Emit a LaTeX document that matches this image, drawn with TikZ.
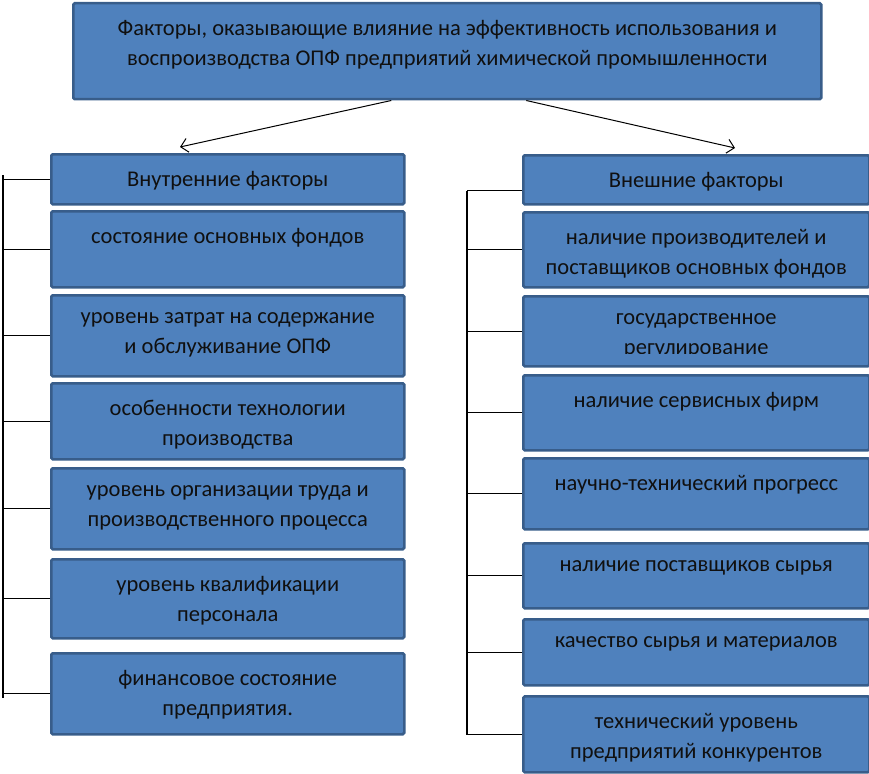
\documentclass[tikz,border=0pt]{standalone}
\usepackage{fontspec}
\setmainfont{Carlito}
\usetikzlibrary{arrows.meta}
\definecolor{boxfill}{HTML}{4F81BD}
\definecolor{boxline}{HTML}{385D8A}
\definecolor{boxtext}{HTML}{101010}
\begin{document}
\begin{tikzpicture}[x=1pt, y=-1pt,
    fbox/.style={draw=boxline, fill=boxfill, line width=2.5pt, rounded corners=1.5pt, anchor=north west, inner sep=0pt},
    ftext/.style={anchor=north, align=center, inner sep=0pt, text=boxtext, font=\fontsize{22.5}{30}\selectfont},
    bus/.style={line width=1.4pt},
    >={Straight Barb[length=7pt, width=14pt]}]
  \useasboundingbox (0,0) rectangle (869,773);

  \node[fbox, minimum width=748, minimum height=96] (top) at (72,2) {};
  \node[ftext] (topt) at ([yshift=-18pt]top.north) {Факторы, оказывающие влияние на эффективность использования и\\воспроизводства ОПФ предприятий химической промышленности};

  \node[fbox, minimum width=353, minimum height=50] (L0) at (50,153) {};
  \node[ftext] (L0t) at ([yshift=-18pt]L0.north) {Внутренние факторы};
  \node[fbox, minimum width=353, minimum height=76] (L1) at (50,210) {};
  \node[ftext] (L1t) at ([yshift=-18pt]L1.north) {состояние основных фондов};
  \node[fbox, minimum width=353, minimum height=81] (L2) at (50,294) {};
  \node[ftext] (L2t) at ([yshift=-18pt]L2.north) {уровень затрат на содержание\\и обслуживание ОПФ};
  \node[fbox, minimum width=353, minimum height=76] (L3) at (50,382) {};
  \node[ftext] (L3t) at ([yshift=-18pt]L3.north) {особенности технологии\\производства};
  \node[fbox, minimum width=353, minimum height=81] (L4) at (50,467) {};
  \node[ftext] (L4t) at ([yshift=-18pt]L4.north) {уровень организации труда и\\производственного процесса};
  \node[fbox, minimum width=353, minimum height=79] (L5) at (50,558) {};
  \node[ftext] (L5t) at ([yshift=-18pt]L5.north) {уровень квалификации\\персонала};
  \node[fbox, minimum width=353, minimum height=81] (L6) at (50,652) {};
  \node[ftext] (L6t) at ([yshift=-18pt]L6.north) {финансовое состояние\\предприятия.};

  \node[fbox, minimum width=346, minimum height=49] (R0) at (522,154) {};
  \node[ftext] (R0t) at ([yshift=-18pt]R0.north) {Внешние факторы};
  \node[fbox, minimum width=346, minimum height=75] (R1) at (522,211) {};
  \node[ftext] (R1t) at ([yshift=-18pt]R1.north) {наличие производителей и\\поставщиков основных фондов};
  \node[fbox, minimum width=346, minimum height=70] (R2) at (522,295) {};
  \begin{scope}
    \clip (R2.north west) rectangle ([yshift=14pt]R2.south east);
    \node[ftext] (R2t) at ([yshift=-18pt]R2.north) {государственное\\регулирование};
  \end{scope}
  \node[fbox, minimum width=346, minimum height=75] (R3) at (522,374) {};
  \node[ftext] (R3t) at ([yshift=-18pt]R3.north) {наличие сервисных фирм};
  \node[fbox, minimum width=346, minimum height=71] (R4) at (522,457) {};
  \node[ftext] (R4t) at ([yshift=-18pt]R4.north) {научно-технический прогресс};
  \node[fbox, minimum width=346, minimum height=65] (R5) at (522,542) {};
  \node[ftext] (R5t) at ([yshift=-18pt]R5.north) {наличие поставщиков сырья};
  \node[fbox, minimum width=346, minimum height=66] (R6) at (522,618) {};
  \node[ftext] (R6t) at ([yshift=-18pt]R6.north) {качество сырья и материалов};
  \node[fbox, minimum width=346, minimum height=76] (R7) at (522,695) {};
  \begin{scope}
    \clip (R7.north west) rectangle ([yshift=12pt]R7.south east);
    \node[ftext] (R7t) at ([yshift=-18pt]R7.north) {технический уровень\\предприятий конкурентов};
  \end{scope}

  \coordinate (a1) at (180,147);
  \coordinate (a2) at (735,148);
  \draw[->, line width=1pt] ([xshift=-56pt]top.south) -- (a1);
  \draw[->, line width=1pt] ([xshift=79pt]top.south) -- (a2);

  \coordinate (lbus) at (3,0);
  \coordinate (rbus) at (467,0);
  \draw[bus] ([yshift=4pt]L0.west -| lbus) -- ([yshift=-4pt]L6.west -| lbus);
  \foreach \i in {0,...,6}
    \draw[line width=1pt] (L\i.west) -- (L\i.west -| lbus);
  \draw[bus] ([yshift=-11pt]R0.west -| rbus) -- ([yshift=-1pt]R7.west -| rbus);
  \draw[line width=1pt] ([yshift=-11pt]R0.west) -- ([yshift=-11pt]R0.west -| rbus);
  \foreach \i in {1,...,7}
    \draw[line width=1pt] (R\i.west) -- (R\i.west -| rbus);
\end{tikzpicture}
\end{document}
